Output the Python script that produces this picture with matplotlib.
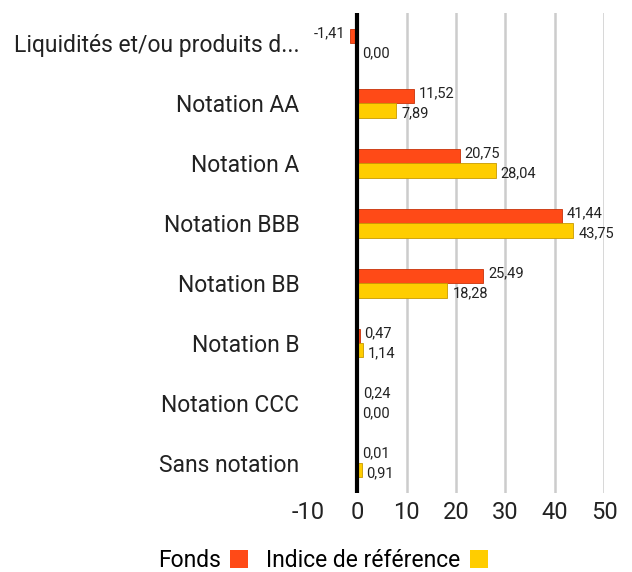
import numpy as np
import matplotlib.pyplot as plt
from matplotlib.patches import Patch

# Données
categories = ['Liquidités et/ou produits d...', 'Notation AA', 'Notation A',
              'Notation BBB', 'Notation BB', 'Notation B', 'Notation CCC',
              'Sans notation']
fonds = [-1.41, 11.52, 20.75, 41.44, 25.49, 0.47, 0.24, 0.01]
indice = [0.00, 7.89, 28.04, 43.75, 18.28, 1.14, 0.00, 0.91]
xticks = [-10, 0, 10, 20, 30, 40, 50]

c_fonds = '#ff4a17'
c_indice = '#ffcd00'

plt.rcParams['font.family'] = ['Roboto', 'DejaVu Sans']

fig = plt.figure(figsize=(6.32, 5.72), dpi=100)
ax = fig.add_axes([0.487, 0.138, 0.469, 0.839])

y = np.arange(len(categories))
h = 0.24
ax.barh(y - h / 2, fonds, height=h, color=c_fonds, edgecolor='#c8320a', linewidth=0.6, zorder=3)
ax.barh(y + h / 2, indice, height=h, color=c_indice, edgecolor='#c89a00', linewidth=0.6, zorder=3)


def fmt(v):
    return f'{v:.2f}'.replace('.', ',')


for i in range(len(categories)):
    for v, dy in ((fonds[i], -h / 2 - 0.05), (indice[i], h / 2 + 0.05)):
        if v < 0:
            ax.text(v - 1.0, i + dy, fmt(v), ha='right', va='center', fontsize=10.5, color='#222222')
        else:
            ax.text(v + 1.0, i + dy, fmt(v), ha='left', va='center', fontsize=10.5, color='#222222')

ax.set_xlim(-10, 50)
ax.set_ylim(len(categories) - 0.5, -0.5)
ax.set_xticks(xticks)
ax.set_xticklabels([str(t) for t in xticks], fontsize=17, color='#222222')
ax.set_yticks(y)
ax.set_yticklabels(categories, fontsize=16.5, color='#222222')
ax.tick_params(axis='x', length=0, pad=6)
ax.tick_params(axis='y', length=0, pad=6)

for t in xticks[2:]:
    ax.axvline(t, color='#cccccc', linewidth=1.8, zorder=1)
ax.axvline(0, color='black', linewidth=3, zorder=4)

for s in ax.spines.values():
    s.set_visible(False)

handles = [Patch(facecolor=c_fonds, label='Fonds'),
           Patch(facecolor=c_indice, label='Indice de référence')]
fig.legend(handles=handles, loc='center', bbox_to_anchor=(0.511, 0.02), ncol=2,
           frameon=False, markerfirst=False, fontsize=16.5, handlelength=0.8,
           handleheight=0.8, handletextpad=0.4, columnspacing=0.8)

fig.savefig('out.png', dpi=100)
